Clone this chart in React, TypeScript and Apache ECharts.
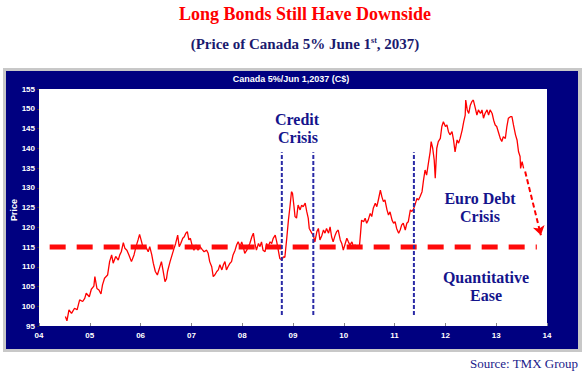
import React, { useEffect, useRef } from 'react';
import * as echarts from 'echarts';

// Decimal years (x) and bond prices (y)
const years = [
  2004.52, 2004.55, 2004.59, 2004.64, 2004.70, 2004.75, 2004.80, 2004.86, 2004.90, 2004.93,
  2004.99, 2005.03, 2005.08, 2005.10, 2005.14, 2005.18, 2005.22, 2005.25, 2005.29, 2005.35,
  2005.39, 2005.43, 2005.46, 2005.51, 2005.56, 2005.59, 2005.62, 2005.66, 2005.69, 2005.73,
  2005.77, 2005.82, 2005.87, 2005.91, 2005.95, 2005.98, 2006.02, 2006.05, 2006.10, 2006.15,
  2006.18, 2006.22, 2006.25, 2006.29, 2006.33, 2006.37, 2006.41, 2006.44, 2006.48, 2006.51,
  2006.53, 2006.58, 2006.62, 2006.66, 2006.69, 2006.73, 2006.76, 2006.79, 2006.83, 2006.86,
  2006.89, 2006.92, 2006.95, 2006.98, 2007.02, 2007.05, 2007.09, 2007.13, 2007.17, 2007.21,
  2007.25, 2007.30, 2007.33, 2007.36, 2007.40, 2007.43, 2007.46, 2007.50, 2007.53, 2007.56,
  2007.60, 2007.63, 2007.66, 2007.69, 2007.72, 2007.76, 2007.79, 2007.82, 2007.86, 2007.89,
  2007.92, 2007.96, 2007.99, 2008.02, 2008.05, 2008.09, 2008.12, 2008.15, 2008.19, 2008.22,
  2008.25, 2008.28, 2008.32, 2008.35, 2008.38, 2008.41, 2008.45, 2008.48, 2008.51, 2008.55,
  2008.58, 2008.61, 2008.65, 2008.68, 2008.71, 2008.74, 2008.78, 2008.81, 2008.84, 2008.88,
  2008.91, 2008.94, 2008.97, 2008.99, 2009.02, 2009.04, 2009.07, 2009.10, 2009.14, 2009.17,
  2009.20, 2009.24, 2009.27, 2009.30, 2009.32, 2009.37, 2009.40, 2009.43, 2009.47, 2009.50,
  2009.53, 2009.57, 2009.60, 2009.63, 2009.66, 2009.70, 2009.73, 2009.76, 2009.79, 2009.83,
  2009.86, 2009.89, 2009.93, 2009.96, 2009.99, 2010.02, 2010.06, 2010.09, 2010.12, 2010.16,
  2010.19, 2010.22, 2010.27, 2010.31, 2010.33, 2010.35, 2010.39, 2010.42, 2010.45, 2010.48,
  2010.52, 2010.55, 2010.58, 2010.62, 2010.65, 2010.68, 2010.72, 2010.75, 2010.78, 2010.81,
  2010.85, 2010.88, 2010.91, 2010.95, 2010.98, 2011.01, 2011.04, 2011.08, 2011.11, 2011.14,
  2011.17, 2011.21, 2011.24, 2011.27, 2011.31, 2011.34, 2011.37, 2011.40, 2011.44, 2011.47,
  2011.50, 2011.54, 2011.57, 2011.60, 2011.63, 2011.67, 2011.70, 2011.72, 2011.75, 2011.78,
  2011.80, 2011.83, 2011.86, 2011.90, 2011.93, 2011.96, 2012.00, 2012.03, 2012.06, 2012.09,
  2012.13, 2012.16, 2012.19, 2012.23, 2012.26, 2012.29, 2012.33, 2012.36, 2012.39, 2012.40,
  2012.43, 2012.46, 2012.49, 2012.52, 2012.55, 2012.59, 2012.62, 2012.65, 2012.69, 2012.72,
  2012.75, 2012.78, 2012.82, 2012.85, 2012.88, 2012.92, 2012.95, 2012.98, 2013.01, 2013.05,
  2013.08, 2013.11, 2013.14, 2013.18, 2013.21, 2013.24, 2013.28, 2013.31, 2013.34, 2013.38,
  2013.41, 2013.44, 2013.47, 2013.48, 2013.51, 2013.54,
];

const prices = [
  97.4, 96.3, 99.1, 98.2, 99.5, 99.1, 101.6, 101.2, 102.0, 103.3,
  102.4, 104.3, 105.1, 107.5, 104.5, 104.1, 103.1, 105.4, 107.1, 107.9,
  111.3, 113.0, 110.9, 112.6, 111.7, 113.0, 113.8, 116.1, 114.7, 114.2,
  113.0, 111.3, 113.0, 115.1, 116.8, 118.2, 116.3, 114.7, 115.1, 113.8,
  115.1, 113.0, 110.9, 108.8, 107.9, 109.6, 111.3, 109.2, 106.2, 107.0,
  108.8, 111.3, 113.0, 114.7, 115.9, 118.0, 115.1, 115.9, 117.2, 117.6,
  118.5, 118.9, 116.8, 117.2, 115.1, 114.2, 115.5, 114.2, 115.1, 114.4,
  113.8, 114.2, 113.4, 111.3, 110.0, 107.5, 107.9, 108.8, 109.2, 110.5,
  109.2, 110.5, 111.3, 109.2, 110.0, 110.9, 111.3, 113.0, 114.2, 115.5,
  116.3, 115.1, 116.3, 115.1, 113.4, 114.2, 115.1, 115.9, 117.6, 118.5,
  115.9, 114.2, 115.9, 115.1, 116.3, 114.2, 113.8, 115.9, 115.1, 116.3,
  115.9, 117.2, 118.0, 116.3, 114.2, 112.1, 111.7, 112.5, 112.4, 117.6,
  121.8, 125.2, 129.0, 128.6, 125.2, 122.7, 122.3, 125.6, 124.4, 125.6,
  125.2, 126.1, 124.0, 122.3, 119.7, 118.5, 118.0, 116.3, 118.9, 119.7,
  116.8, 118.0, 119.3, 118.5, 119.7, 118.5, 120.1, 117.6, 116.3, 118.0,
  118.9, 119.3, 116.8, 115.9, 114.2, 115.5, 117.2, 116.3, 115.5, 116.3,
  115.1, 115.5, 115.1, 115.5, 118.5, 121.8, 121.4, 122.3, 121.0, 121.8,
  123.5, 122.7, 124.8, 126.1, 125.2, 126.9, 129.4, 127.7, 126.5, 126.9,
  124.4, 123.1, 123.9, 121.8, 121.0, 121.4, 119.7, 118.5, 119.3, 120.6,
  121.0, 119.3, 121.0, 121.4, 124.4, 124.0, 124.5, 125.6, 127.3, 126.9,
  127.7, 129.0, 132.0, 134.5, 133.2, 136.6, 139.1, 141.7, 140.0, 137.0,
  132.4, 140.0, 141.7, 142.5, 145.5, 146.7, 145.5, 145.9, 144.2, 143.4,
  144.2, 142.1, 139.1, 142.1, 141.3, 142.5, 144.6, 146.7, 148.4, 152.2,
  149.7, 148.8, 150.9, 151.8, 152.2, 150.1, 148.4, 149.7, 148.8, 149.7,
  147.6, 148.8, 149.7, 148.4, 149.7, 148.8, 147.1, 145.9, 145.5, 143.8,
  142.5, 141.7, 142.9, 142.5, 145.5, 147.6, 148.0, 148.0, 145.9, 143.4,
  142.1, 139.1, 137.9, 134.9, 136.6, 134.9,
];

const yearLabels = ['04', '05', '06', '07', '08', '09', '10', '11', '12', '13', '14'];

// Horizontal "floor" guide
const guideLevel = 115;
const guideStart = 2004.21;
const guideEnd = 2013.8;

// Vertical event markers
const eventYears = [2008.78, 2009.4, 2011.38];
const eventLow = 97.8;
const eventHigh = 139;

// Projected move arrow
const arrowFrom = [2013.57, 134.1];
const arrowTo = [2013.88, 118.0];

const NAVY_TEXT = '#14148c';
const SERIF = '"Liberation Serif", "Times New Roman", serif';
const SANS = '"Liberation Sans", Arial, sans-serif';

export default function App() {
  const ref = useRef<HTMLDivElement>(null);

  useEffect(() => {
    if (!ref.current) return;
    const chart = echarts.init(ref.current, null, { renderer: 'svg' });

    const priceData = years.map((y, i) => [y, prices[i]]);

    const eventSeries = eventYears.map((ey) => ({
      type: 'line',
      data: [
        [ey, eventLow],
        [ey, eventHigh],
      ],
      symbol: 'none',
      silent: true,
      z: 4,
      lineStyle: { color: '#2a2aa6', width: 2, type: [4, 2] },
    }));

    const annotation = (text: string, x: number, y: number) => ({
      type: 'text',
      x,
      y,
      z: 20,
      style: {
        text,
        textAlign: 'center',
        textVerticalAlign: 'middle',
        fontFamily: SERIF,
        fontWeight: 'bold',
        fontSize: 16,
        fill: NAVY_TEXT,
      },
    });

    chart.setOption({
      animation: false,
      backgroundColor: 'transparent',
      grid: {
        left: 39,
        top: 89,
        right: 40,
        bottom: 48,
        show: true,
        backgroundColor: '#ffffff',
        borderWidth: 0,
      },
      xAxis: {
        type: 'value',
        min: 2004,
        max: 2014,
        interval: 1,
        axisLine: { show: false },
        axisTick: { show: true, inside: true, length: 3, lineStyle: { color: '#888' } },
        splitLine: { show: false },
        axisLabel: {
          color: '#ffffff',
          fontSize: 8,
          fontWeight: 'bold',
          fontFamily: SANS,
          margin: 5,
          formatter: (v: number) => yearLabels[Math.round(v) - 2004] ?? '',
        },
      },
      yAxis: {
        type: 'value',
        min: 95,
        max: 155,
        interval: 5,
        axisLine: { show: false },
        axisTick: { show: true, length: 2, lineStyle: { color: '#333' } },
        splitLine: { show: false },
        axisLabel: {
          color: '#ffffff',
          fontSize: 8,
          fontWeight: 'bold',
          fontFamily: SANS,
          margin: 4,
        },
      },
      series: [
        {
          type: 'line',
          data: priceData,
          symbol: 'none',
          z: 2,
          lineStyle: { color: '#ff0000', width: 1.3 },
        },
        {
          type: 'line',
          data: [
            [guideStart, guideLevel],
            [guideEnd, guideLevel],
          ],
          symbol: 'none',
          silent: true,
          z: 3,
          lineStyle: { color: '#ff0a0a', width: 5, type: [16, 11] },
        },
        ...eventSeries,
        {
          type: 'line',
          data: [],
          silent: true,
          z: 5,
          markLine: {
            silent: true,
            symbol: ['none', 'arrow'],
            symbolSize: 9,
            label: { show: false },
            lineStyle: { color: '#ff0000', width: 2, type: [5, 3] },
            data: [[{ coord: arrowFrom }, { coord: arrowTo }]],
          },
        },
      ],
      graphic: [
        {
          type: 'text',
          x: 305,
          y: 14,
          style: {
            text: 'Long Bonds Still Have Downside',
            textAlign: 'center',
            textVerticalAlign: 'middle',
            fontFamily: SERIF,
            fontWeight: 'bold',
            fontSize: 18,
            fill: '#ff0000',
          },
        },
        {
          type: 'text',
          x: 305,
          y: 44,
          style: {
            text: '(Price of Canada 5% June 1{sup|st}, 2037)',
            textAlign: 'center',
            textVerticalAlign: 'middle',
            fontFamily: SERIF,
            fontWeight: 'bold',
            fontSize: 15,
            fill: '#1a1a6e',
            rich: {
              sup: {
                fontFamily: SERIF,
                fontWeight: 'bold',
                fontSize: 8,
                fill: '#1a1a6e',
                verticalAlign: 'top',
                padding: [0, 0, 6, 0],
              },
            },
          },
        },
        {
          type: 'text',
          x: 291,
          y: 79,
          style: {
            text: 'Canada 5%/Jun 1,2037 (C$)',
            textAlign: 'center',
            textVerticalAlign: 'middle',
            fontFamily: SANS,
            fontWeight: 'bold',
            fontSize: 9,
            fill: '#ffffff',
          },
        },
        {
          type: 'text',
          x: 14,
          y: 210,
          rotation: Math.PI / 2,
          style: {
            text: 'Price',
            textAlign: 'center',
            textVerticalAlign: 'middle',
            fontFamily: SANS,
            fontWeight: 'bold',
            fontSize: 9,
            fill: '#ffffff',
          },
        },
        annotation('Credit', 297, 119),
        annotation('Crisis', 298, 137),
        annotation('Euro Debt', 480, 198),
        annotation('Crisis', 480, 216),
        annotation('Quantitative', 486, 277),
        annotation('Ease', 486, 295),
        {
          type: 'text',
          x: 578,
          y: 363,
          style: {
            text: 'Source: TMX Group',
            textAlign: 'right',
            textVerticalAlign: 'middle',
            fontFamily: SERIF,
            fontSize: 13,
            fill: '#1a1a8a',
          },
        },
      ],
    });

    return () => chart.dispose();
  }, []);

  return (
    <div
      style={{
        position: 'fixed',
        left: 0,
        top: 0,
        width: 587,
        height: 374,
        background: '#ffffff',
        overflow: 'hidden',
      }}
    >
      <div
        style={{
          position: 'absolute',
          left: 3,
          top: 68,
          width: 579,
          height: 284,
          background: '#c8c8c8',
        }}
      />
      <div
        style={{
          position: 'absolute',
          left: 6,
          top: 71,
          width: 572,
          height: 278,
          background: '#000080',
        }}
      />
      <div ref={ref} style={{ position: 'absolute', left: 0, top: 0, width: 587, height: 374 }} />
    </div>
  );
}
